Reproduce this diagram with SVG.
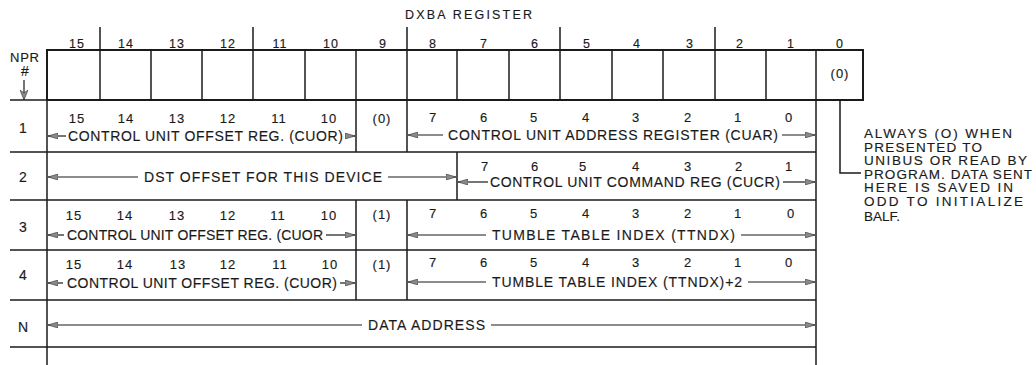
<svg xmlns="http://www.w3.org/2000/svg" width="1036" height="365" viewBox="0 0 1036 365">
<defs>
<marker id="ah" viewBox="0 0 10 6" refX="10" refY="3" markerWidth="10" markerHeight="6" markerUnits="userSpaceOnUse" orient="auto-start-reverse">
<path d="M0,0 L10,3 L0,6 z" fill="#8a8a8a" stroke="#333" stroke-width="0.6"/>
</marker>
<marker id="ahd" viewBox="0 0 8 10" refX="4" refY="10" markerWidth="8" markerHeight="10" markerUnits="userSpaceOnUse" orient="0">
<path d="M0,0 L4,10 L8,0 L4,3 z" fill="#8a8a8a" stroke="#333" stroke-width="0.6"/>
</marker>
</defs>
<style>
text{font-family:"Liberation Sans",Arial,sans-serif;fill:#1a1a1a;stroke:#1a1a1a;stroke-width:0.15}
.d{font-size:13px;text-anchor:middle;letter-spacing:1px}
.h{font-size:12.5px;text-anchor:middle;letter-spacing:1px}
.l{font-size:14px}
.t{font-size:13.5px}
.n{font-size:14px;text-anchor:middle}
.box{fill:none;stroke:#1a1a1a;stroke-width:2}
.ln{stroke:#1a1a1a;stroke-width:1.5;fill:none}
.ar{stroke:#1a1a1a;stroke-width:1.2;fill:none;marker-start:url(#ah)}
.ar1{stroke:#1a1a1a;stroke-width:1.2;fill:none;marker-end:url(#ah)}
</style>
<rect width="1036" height="365" fill="#fff"/>

<g id="title">
<text x="405" y="19" style="font-size:12.5px" textLength="127">DXBA REGISTER</text>
</g>

<g id="register">
<g class="ln">
<line x1="100" y1="27" x2="100" y2="50"/>
<line x1="253" y1="27" x2="253" y2="50"/>
<line x1="407" y1="27" x2="407" y2="50"/>
<line x1="560" y1="27" x2="560" y2="50"/>
<line x1="715" y1="27" x2="715" y2="50"/>
</g>
<text class="h" y="47.5"><tspan x="77">15</tspan><tspan x="126">14</tspan><tspan x="177">13</tspan><tspan x="228">12</tspan><tspan x="280">11</tspan><tspan x="331">10</tspan><tspan x="383">9</tspan><tspan x="433">8</tspan><tspan x="484">7</tspan><tspan x="535">6</tspan><tspan x="587">5</tspan><tspan x="637">4</tspan><tspan x="690">3</tspan><tspan x="740">2</tspan><tspan x="791">1</tspan><tspan x="840">0</tspan></text>
<rect class="box" x="47" y="50" width="816" height="50"/>
<g class="ln">
<line x1="100" y1="50" x2="100" y2="100"/>
<line x1="151" y1="50" x2="151" y2="100"/>
<line x1="202" y1="50" x2="202" y2="100"/>
<line x1="253" y1="50" x2="253" y2="100"/>
<line x1="305" y1="50" x2="305" y2="100"/>
<line x1="356" y1="50" x2="356" y2="100"/>
<line x1="407" y1="50" x2="407" y2="100"/>
<line x1="457" y1="50" x2="457" y2="100"/>
<line x1="509" y1="50" x2="509" y2="100"/>
<line x1="560" y1="50" x2="560" y2="100"/>
<line x1="612" y1="50" x2="612" y2="100"/>
<line x1="663" y1="50" x2="663" y2="100"/>
<line x1="715" y1="50" x2="715" y2="100"/>
<line x1="766" y1="50" x2="766" y2="100"/>
<line x1="816" y1="50" x2="816" y2="100"/>
</g>
<text class="d" x="840" y="78">(0)</text>
</g>

<g id="npr">
<text x="10" y="62" style="font-size:13px" textLength="29">NPR</text>
<text x="25" y="76" style="font-size:14px;text-anchor:middle">#</text>
</g>

<g id="table">
<g class="ln">
<line x1="10" y1="100" x2="47" y2="100"/>
<line x1="10" y1="152" x2="816" y2="152"/>
<line x1="10" y1="200" x2="816" y2="200"/>
<line x1="10" y1="250" x2="816" y2="250"/>
<line x1="10" y1="300" x2="816" y2="300"/>
<line x1="10" y1="347" x2="816" y2="347"/>
<line x1="47" y1="100" x2="47" y2="365"/>
<line x1="816" y1="100" x2="816" y2="365"/>
</g>
</g>

<g id="row1">
<text class="n" x="23" y="133">1</text>
<line class="ln" x1="356" y1="100" x2="356" y2="152"/>
<line class="ln" x1="407" y1="100" x2="407" y2="152"/>
<text class="d" y="123"><tspan x="77">15</tspan><tspan x="126">14</tspan><tspan x="177">13</tspan><tspan x="228">12</tspan><tspan x="279">11</tspan><tspan x="329">10</tspan></text>
<text class="d" x="382" y="123">(0)</text>
<text class="d" y="122"><tspan x="433">7</tspan><tspan x="484">6</tspan><tspan x="534">5</tspan><tspan x="586">4</tspan><tspan x="636">3</tspan><tspan x="688">2</tspan><tspan x="738">1</tspan><tspan x="789">0</tspan></text>
<text class="l" x="68" y="141" textLength="275">CONTROL UNIT OFFSET REG. (CUOR)</text>
<text class="l" x="448" y="140" textLength="330">CONTROL UNIT ADDRESS REGISTER (CUAR)</text>
</g>

<g id="row2">
<text class="n" x="23" y="182">2</text>
<line class="ln" x1="457" y1="152" x2="457" y2="200"/>
<text class="l" x="144" y="182" textLength="238">DST OFFSET FOR THIS DEVICE</text>
<text class="d" y="171"><tspan x="485">7</tspan><tspan x="535">6</tspan><tspan x="583">5</tspan><tspan x="636">4</tspan><tspan x="688">3</tspan><tspan x="739">2</tspan><tspan x="789">1</tspan></text>
<text class="l" x="490" y="187" textLength="290">CONTROL UNIT COMMAND REG (CUCR)</text>
</g>

<g id="row3">
<text class="n" x="23" y="232">3</text>
<line class="ln" x1="356" y1="200" x2="356" y2="250"/>
<line class="ln" x1="407" y1="200" x2="407" y2="250"/>
<text class="d" y="219.5"><tspan x="74">15</tspan><tspan x="125">14</tspan><tspan x="177">13</tspan><tspan x="228">12</tspan><tspan x="278">11</tspan><tspan x="329">10</tspan></text>
<text class="d" x="382" y="219">(1)</text>
<text class="d" y="218"><tspan x="433">7</tspan><tspan x="484">6</tspan><tspan x="534">5</tspan><tspan x="586">4</tspan><tspan x="636">3</tspan><tspan x="688">2</tspan><tspan x="738">1</tspan><tspan x="791">0</tspan></text>
<text class="l" x="67" y="240" textLength="256">CONTROL UNIT OFFSET REG. (CUOR</text>
<text class="l" x="492" y="240" textLength="243">TUMBLE TABLE INDEX (TTNDX)</text>
</g>

<g id="row4">
<text class="n" x="23" y="280">4</text>
<line class="ln" x1="356" y1="250" x2="356" y2="300"/>
<line class="ln" x1="407" y1="250" x2="407" y2="300"/>
<text class="d" y="269"><tspan x="74">15</tspan><tspan x="125">14</tspan><tspan x="178">13</tspan><tspan x="228">12</tspan><tspan x="280">11</tspan><tspan x="330">10</tspan></text>
<text class="d" x="382" y="268.5">(1)</text>
<text class="d" y="267"><tspan x="433">7</tspan><tspan x="484">6</tspan><tspan x="534">5</tspan><tspan x="586">4</tspan><tspan x="636">3</tspan><tspan x="688">2</tspan><tspan x="738">1</tspan><tspan x="789">0</tspan></text>
<text class="l" x="67" y="288" textLength="270">CONTROL UNIT OFFSET REG. (CUOR)</text>
<text class="l" x="492" y="287" textLength="250">TUMBLE TABLE INDEX (TTNDX)+2</text>
</g>

<g id="rowN">
<text class="n" x="23" y="332">N</text>
<text class="l" x="368" y="330" textLength="117">DATA ADDRESS</text>
</g>

<g id="note">
<text class="t" x="864" y="138" textLength="148">ALWAYS (O) WHEN</text>
<text class="t" x="864" y="151.5" textLength="118">PRESENTED TO</text>
<text class="t" x="864" y="165" textLength="163">UNIBUS OR READ BY</text>
<text class="t" x="864" y="178.5" textLength="168">PROGRAM. DATA SENT</text>
<text class="t" x="864" y="192" textLength="149">HERE IS SAVED IN</text>
<text class="t" x="864" y="205.5" textLength="159">ODD TO INITIALIZE</text>
<text class="t" x="864" y="221" textLength="36">BALF.</text>
</g>

<g id="connectors">
<line x1="24" y1="80" x2="24" y2="100" stroke="#1a1a1a" stroke-width="1.2" marker-end="url(#ahd)"/>
<polyline class="ln" points="840,100 840,173 861,173"/>
<line class="ar" x1="48" y1="136" x2="66" y2="136"/>
<line class="ar1" x1="345" y1="136" x2="355" y2="136"/>
<line class="ar" x1="408" y1="135" x2="443" y2="135"/>
<line class="ar1" x1="782" y1="135" x2="815" y2="135"/>
<line class="ar" x1="48" y1="177" x2="138" y2="177"/>
<line class="ar1" x1="388" y1="177" x2="456" y2="177"/>
<line class="ar" x1="458" y1="182" x2="488" y2="182"/>
<line class="ar1" x1="783" y1="182" x2="815" y2="182"/>
<line class="ar" x1="48" y1="235" x2="64" y2="235"/>
<line class="ar1" x1="326" y1="235" x2="355" y2="235"/>
<line class="ar" x1="408" y1="235" x2="486" y2="235"/>
<line class="ar1" x1="741" y1="235" x2="815" y2="235"/>
<line class="ar" x1="48" y1="283" x2="63" y2="283"/>
<line class="ar1" x1="340" y1="283" x2="355" y2="283"/>
<line class="ar" x1="408" y1="282" x2="486" y2="282"/>
<line class="ar1" x1="748" y1="282" x2="815" y2="282"/>
<line class="ar" x1="48" y1="325" x2="362" y2="325"/>
<line class="ar1" x1="491" y1="325" x2="815" y2="325"/>
</g>
</svg>
